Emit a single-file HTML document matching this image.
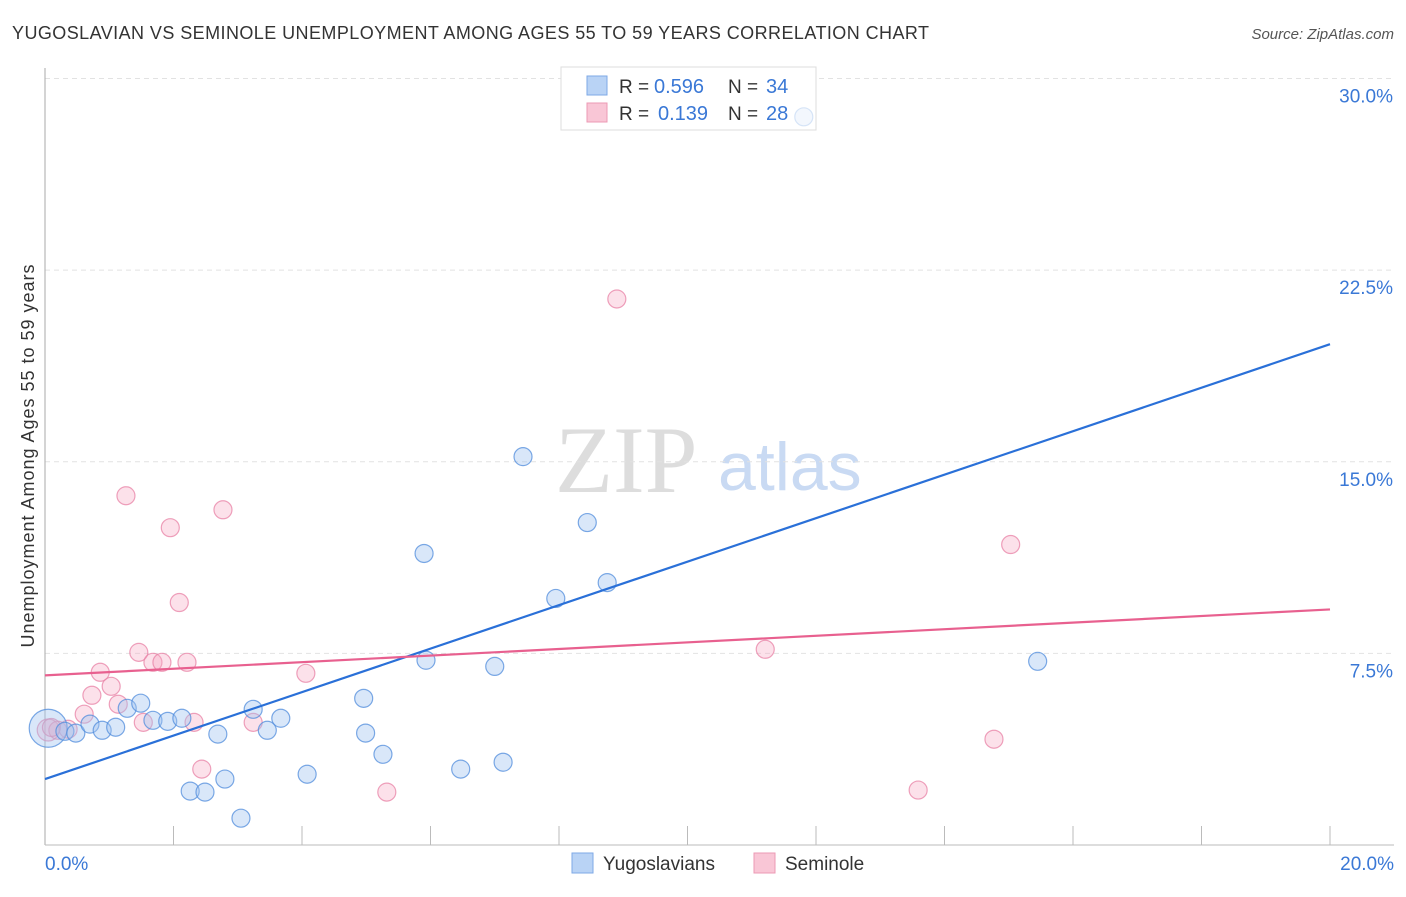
<!DOCTYPE html>
<html><head><meta charset="utf-8"><style>
body{margin:0;background:#fff;font-family:"Liberation Sans",sans-serif}
svg text{font-family:"Liberation Sans",sans-serif}
</style></head><body>
<svg id="c" width="1406" height="892">
<text x="12" y="39" font-size="18" fill="#333" textLength="917">YUGOSLAVIAN VS SEMINOLE UNEMPLOYMENT AMONG AGES 55 TO 59 YEARS CORRELATION CHART</text>
<text x="1394" y="39" font-size="15" fill="#555" text-anchor="end" font-style="italic">Source: ZipAtlas.com</text>
<text x="0" y="0" transform="translate(34,456) rotate(-90)" font-size="18" fill="#333" text-anchor="middle" textLength="383">Unemployment Among Ages 55 to 59 years</text>
<text x="555" y="492" font-size="95" fill="#ddd" style="font-family:'Liberation Serif',serif">ZIP</text>
<text x="718" y="490" font-size="68" fill="#c9daf3">atlas</text>
<g id="grid"></g>
<line x1="45" y1="68" x2="45" y2="845" stroke="#aaa"/>
<line x1="45" y1="845" x2="1394" y2="845" stroke="#bbb"/>
<g>
<rect x="561" y="67" width="255" height="63" fill="#fff" stroke="#ddd"/>
<rect x="587" y="76" width="20" height="19" fill="#b9d3f5" stroke="#7ea8e6"/>
<rect x="587" y="103" width="20" height="19" fill="#f9c6d6" stroke="#ec9ab4"/>
<text x="619" y="93" font-size="19" fill="#333">R =</text><text x="654" y="93" font-size="20" fill="#3a78d6">0.596</text>
<text x="728" y="93" font-size="19" fill="#333">N =</text><text x="766" y="93" font-size="20" fill="#3a78d6">34</text>
<text x="619" y="120" font-size="19" fill="#333">R =</text><text x="658" y="120" font-size="20" fill="#3a78d6">0.139</text>
<text x="728" y="120" font-size="19" fill="#333">N =</text><text x="766" y="120" font-size="20" fill="#3a78d6">28</text>
</g>
<g id="pts"></g><g id="lines"></g>
<g>
<rect x="572" y="853" width="21" height="20" fill="#b9d3f5" stroke="#7ea8e6"/>
<text x="603" y="870" font-size="19" fill="#333">Yugoslavians</text>
<rect x="754" y="853" width="21" height="20" fill="#f9c6d6" stroke="#ec9ab4"/>
<text x="785" y="870" font-size="19" fill="#333">Seminole</text>
</g>
</svg>
<script>
const yTicks=[7.5,15,22.5,30];
const yTickLabels=["7.5%","15.0%","22.5%","30.0%"];
const xTickLabels=["0.0%","20.0%"];
const yugoX=[0.05,0.31,0.48,0.70,0.89,1.10,1.28,1.49,1.68,1.91,2.13,2.69,2.26,2.49,2.80,3.05,3.24,3.46,3.67,4.08,4.96,4.99,5.26,5.90,5.93,6.47,7.00,7.13,7.44,7.95,8.44,8.75,15.45,11.81];
const yugoY=[4.57,4.45,4.38,4.73,4.49,4.61,5.35,5.55,4.88,4.84,4.96,4.34,2.11,2.07,2.58,1.05,5.31,4.49,4.96,2.77,5.74,4.38,3.55,11.41,7.23,2.97,6.99,3.24,15.20,9.65,12.62,10.27,7.19,28.5];
const semX=[0.05,0.20,0.36,0.61,0.73,0.86,1.03,1.14,1.26,1.46,1.53,1.68,1.82,1.95,2.09,2.21,2.32,2.44,2.77,3.24,4.06,5.32,8.90,11.21,13.59,14.77,15.03,0.10];
const semY=[4.5,4.49,4.53,5.12,5.86,6.76,6.21,5.51,13.67,7.54,4.80,7.15,7.15,12.42,9.49,7.15,4.80,2.97,13.12,4.80,6.72,2.07,21.37,7.66,2.15,4.14,11.76,4.6];
const semR=[11,9,9,9,9,9,9,9,9,9,9,9,9,9,9,9,9,9,9,9,9,9,9,9,9,9,9,9];
const yugoR=[19,9,9,9,9,9,9,9,9,9,9,9,9,9,9,9,9,9,9,9,9,9,9,9,9,9,9,9,9,9,9,9,9,9];
const blueLine=[2.58,19.6];
const pinkLine=[6.64,9.22];
const X=v=>45+v*64.25, Y=v=>845-v*25.55;
const NS="http://www.w3.org/2000/svg";
function mk(t,a,p){const e=document.createElementNS(NS,t);for(const k in a)e.setAttribute(k,a[k]);p.appendChild(e);return e;}
const grid=document.getElementById('grid'),svg=document.getElementById('c');
yTicks.forEach((v,i)=>{
 const l=mk('line',{x1:45,x2:1394,y1:Y(v),y2:Y(v),stroke:'#e2e2e2','stroke-dasharray':'5,4'},grid);
 
 
 const t=mk('text',{x:1393,y:Y(v)+24,'font-size':19,fill:'#3a78d6','text-anchor':'end'},svg);
 t.textContent=yTickLabels[i];
 
 
});
for(let i=1;i<=10;i++){
 const l=mk('line',{x1:X(i*2),x2:X(i*2),y1:826,y2:845,stroke:'#bbb'},grid);
 
 
}
[[0,'start',45],[20,'end',1394]].forEach((d,i)=>{
 const t=mk('text',{x:d[2],y:870,'font-size':19,fill:'#3a78d6','text-anchor':d[1]},svg);
 t.textContent=xTickLabels[i];
 
 
});
const pts=document.getElementById('pts');
semX.forEach((v,i)=>{
 const c=mk('circle',{cx:X(v),cy:Y(semY[i]),r:semR[i],fill:'rgba(246,170,195,0.35)',stroke:'rgba(232,130,165,0.75)','stroke-width':1.2},pts);
 
 
});
yugoX.forEach((v,i)=>{
 const op=yugoY[i]>25?0.3:1;
 const c=mk('circle',{cx:X(v),cy:Y(yugoY[i]),r:yugoR[i],fill:'rgba(160,195,240,0.4)',stroke:'rgba(80,140,220,0.75)','stroke-width':1.2,opacity:op},pts);
 
 
});
const lines=document.getElementById('lines');
const bl=mk('line',{x1:X(0),y1:Y(blueLine[0]),x2:X(20),y2:Y(blueLine[1]),stroke:'#2a70d8','stroke-width':2.2},lines);


const pl=mk('line',{x1:X(0),y1:Y(pinkLine[0]),x2:X(20),y2:Y(pinkLine[1]),stroke:'#e8608f','stroke-width':2.2},lines);


</script>
</body></html>
